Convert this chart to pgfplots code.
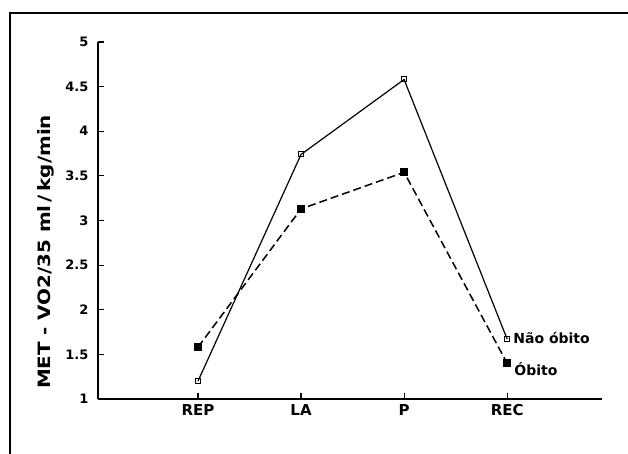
\documentclass[border=0pt]{standalone}
\usepackage{fontspec}
\setmainfont{DejaVu Sans}
\usepackage{pgfplots}
\pgfplotsset{compat=1.18}
\begin{document}
\begin{tikzpicture}[x=1pt,y=1pt]
\clip (-98,-55) rectangle (530,399);
\draw[line width=1.8pt] (-88,-90) rectangle (560,386);
\begin{axis}[
  at={(0,0)}, anchor=south west,
  scale only axis, width=504pt, height=357pt,
  xmin=-0.97, xmax=3.92, ymin=1, ymax=5,
  axis x line=bottom, axis y line=left,
  axis line style={line width=1.5pt, -},
  xtick={0,1,2,3}, xticklabels={REP,LA,P,REC},
  ytick={1,1.5,2,2.5,3,3.5,4,4.5,5},
  yticklabels={1,1.5,2,2.5,3,3.5,4,4.5,5},
  tick align=inside, major tick length=6pt,
  tick style={line width=1.2pt, black},
  xticklabel style={font=\bfseries\fontsize{15}{15}\selectfont, yshift=-2pt},
  yticklabel style={font=\bfseries\fontsize{13}{13}\selectfont, xshift=-6pt},
  clip=false,
]
\addplot[black, line width=1.2pt, mark=square, mark size=2.5pt, mark options={solid, line width=1pt, fill=white}]
  coordinates {(0,1.2) (1,3.74) (2,4.58) (3,1.67)};
\addplot[black, line width=1.5pt, dash pattern=on 8pt off 4pt, mark=square*, mark size=3.2pt, mark options={solid}]
  coordinates {(0,1.58) (1,3.13) (2,3.54) (3,1.40)};
\node[anchor=west, font=\bfseries\fontsize{14}{14}\selectfont, inner sep=0pt] at (axis cs:3,1.68) [xshift=6pt] {Não óbito};
\node[anchor=west, font=\bfseries\fontsize{14}{14}\selectfont, inner sep=0pt] at (axis cs:3,1.33) [xshift=7pt] {Óbito};
\end{axis}
\node[rotate=90, font=\bfseries\fontsize{17}{17}\selectfont] at (-52,147) {\scalebox{1.17}[1]{MET\,\,-\,\,VO2/35 ml\,/\,kg/min}};
\end{tikzpicture}
\end{document}
